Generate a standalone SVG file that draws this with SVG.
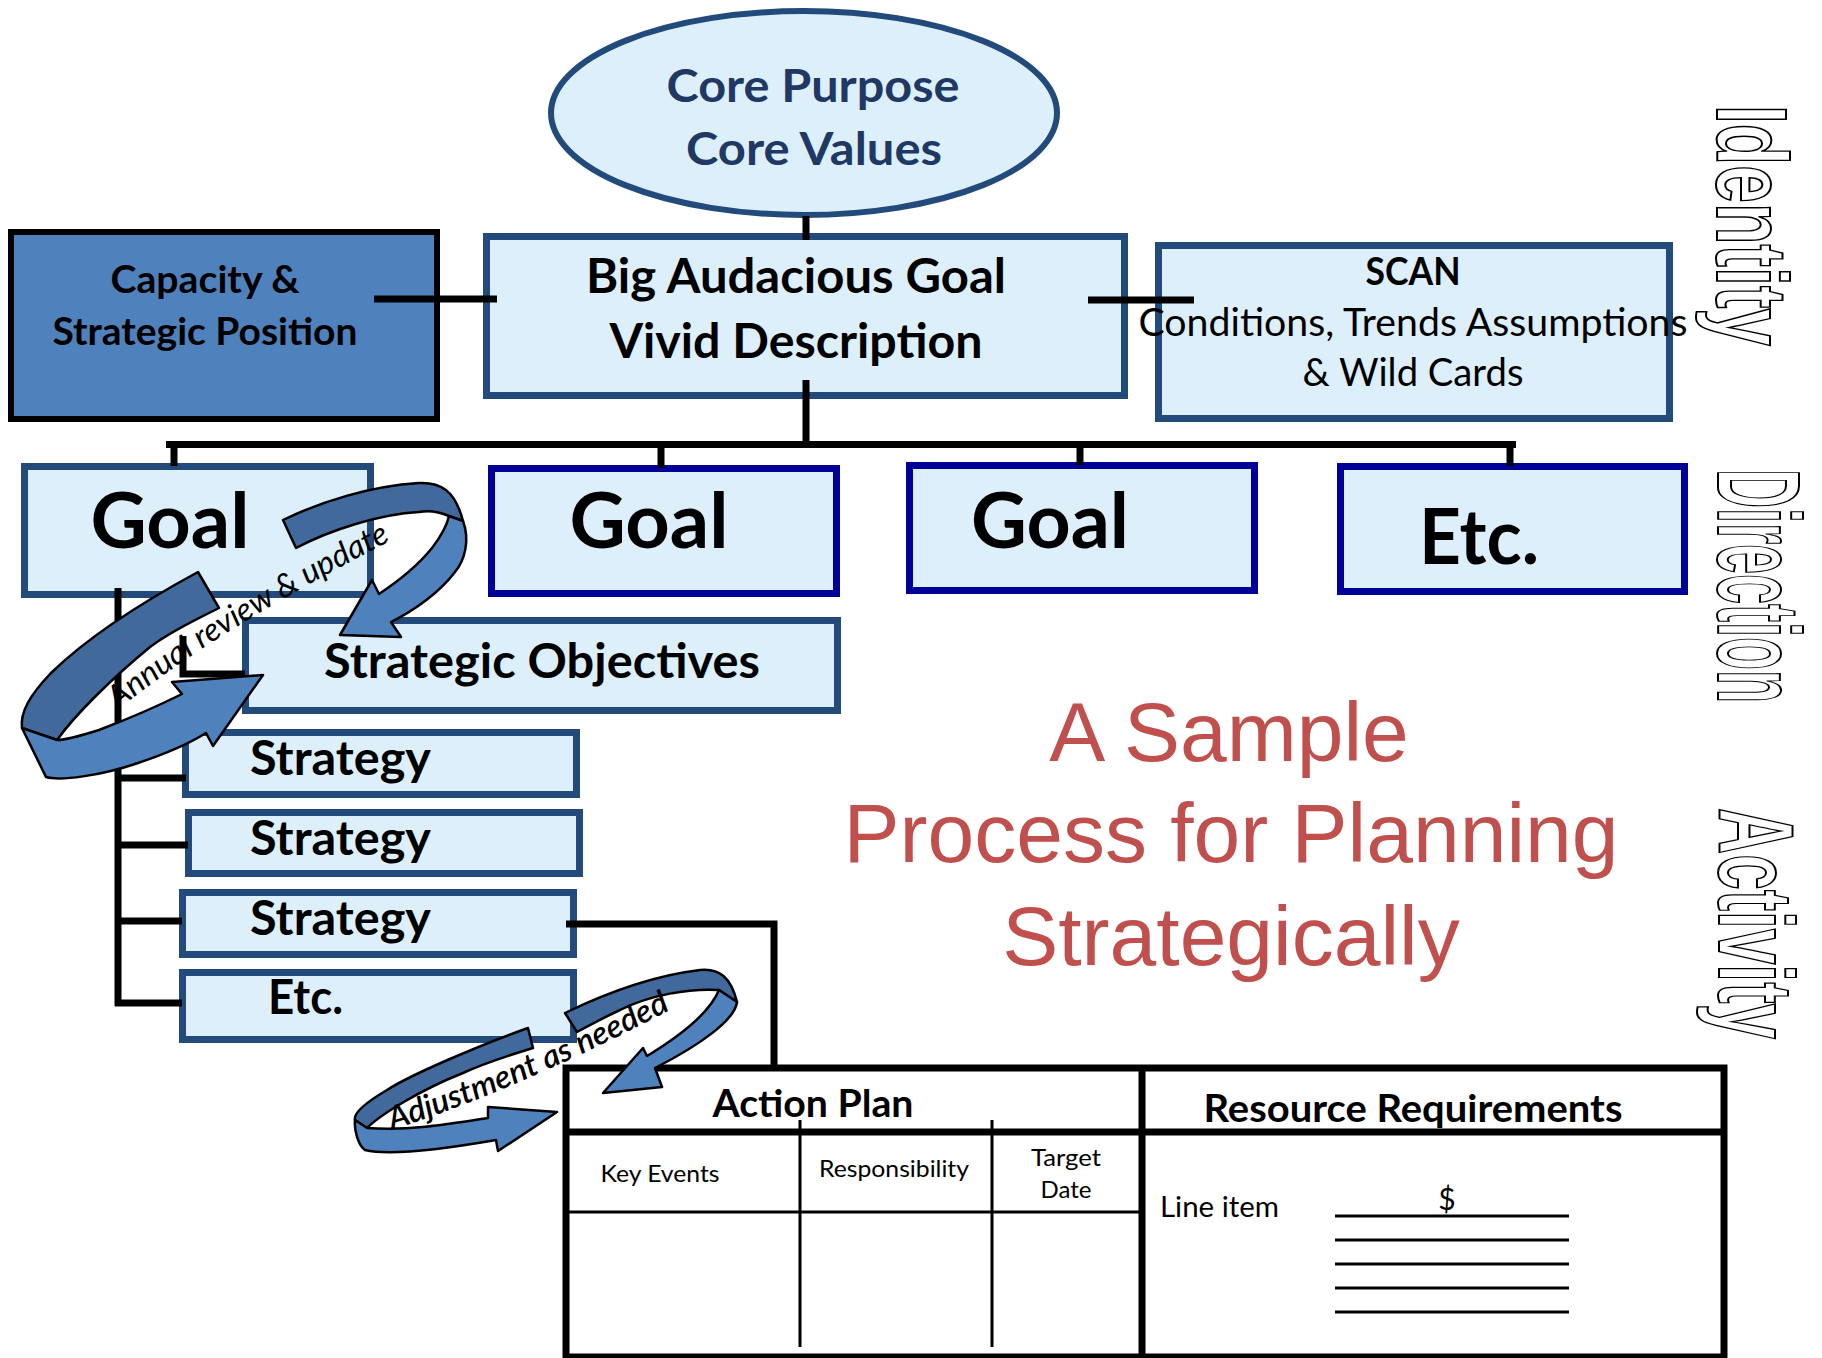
<svg xmlns="http://www.w3.org/2000/svg" width="1822" height="1358" viewBox="0 0 1822 1358">
<defs>
<style>
.box{fill:#DCEFFB;stroke:#224A7A;stroke-width:7}
.nbox{fill:#DCEFFB;stroke:#000096;stroke-width:7}
.t{font-family:Lato,"Open Sans","Liberation Sans",sans-serif;font-weight:700;fill:#000;text-anchor:middle}
.r{font-weight:400}
.conn{stroke:#000;stroke-width:7;fill:none}
.thin{stroke:#000;stroke-width:3;fill:none}
.back{fill:#41699C;stroke:#000;stroke-width:2.5;stroke-linejoin:round}
.front{fill:#4F81BD;stroke:#000;stroke-width:2.5;stroke-linejoin:round}
.lab{font-family:Lato,"Open Sans",sans-serif;font-style:italic;fill:#000}
.side{font-family:"Liberation Sans",Arial,sans-serif;font-weight:700;fill:#fff;stroke:#000;stroke-width:2}
.title{font-family:"Liberation Sans",Arial,sans-serif;fill:#C0504D;font-size:84px;text-anchor:middle}
</style>
</defs>
<rect width="1822" height="1358" fill="#fff"/>

<g id="core">
<ellipse cx="804" cy="113" rx="253" ry="102" fill="#DCEFFB" stroke="#224A7A" stroke-width="6"/>
<text class="t" x="813" y="102" font-size="46" style="fill:#1F3864" textLength="293" lengthAdjust="spacingAndGlyphs">Core Purpose</text>
<text class="t" x="814" y="165" font-size="46" style="fill:#1F3864" textLength="256" lengthAdjust="spacingAndGlyphs">Core Values</text>
</g>

<g id="capacity">
<rect x="11" y="232" width="426" height="187" fill="#4F81BD" stroke="#000" stroke-width="6"/>
<text class="t" x="205" y="293" font-size="38" textLength="189" lengthAdjust="spacingAndGlyphs">Capacity &amp;</text>
<text class="t" x="205" y="345" font-size="38" textLength="305" lengthAdjust="spacingAndGlyphs">Strategic Position</text>
</g>

<g id="big-goal">
<rect class="box" x="486.5" y="236.5" width="638" height="159"/>
<text class="t" x="796" y="293" font-size="47" textLength="420" lengthAdjust="spacingAndGlyphs">Big Audacious Goal</text>
<text class="t" x="796" y="358" font-size="47" textLength="373" lengthAdjust="spacingAndGlyphs">Vivid Description</text>
</g>

<g id="scan">
<rect class="box" x="1158.5" y="245.5" width="511" height="173"/>
<text class="t" x="1413" y="285" font-size="38" textLength="95" lengthAdjust="spacingAndGlyphs">SCAN</text>
<text class="t r" x="1413" y="336" font-size="38" textLength="549" lengthAdjust="spacingAndGlyphs">Conditions, Trends Assumptions</text>
<text class="t r" x="1413" y="386" font-size="38" textLength="221" lengthAdjust="spacingAndGlyphs">&amp; Wild Cards</text>
</g>

<g id="goal1">
<rect class="box" x="24.5" y="466.5" width="346" height="128"/>
<text class="t" x="170" y="548" font-size="76" textLength="159" lengthAdjust="spacingAndGlyphs">Goal</text>
</g>
<g id="goal2">
<rect class="nbox" x="491.5" y="468.5" width="345" height="125"/>
<text class="t" x="649" y="548" font-size="76" textLength="159" lengthAdjust="spacingAndGlyphs">Goal</text>
</g>
<g id="goal3">
<rect class="nbox" x="909.5" y="465.5" width="345" height="125"/>
<text class="t" x="1050" y="548" font-size="76" textLength="158" lengthAdjust="spacingAndGlyphs">Goal</text>
</g>
<g id="goal-etc">
<rect class="nbox" x="1340.5" y="466.5" width="344" height="125"/>
<text class="t" x="1479" y="564" font-size="76" textLength="120" lengthAdjust="spacingAndGlyphs">Etc.</text>
</g>

<g id="strategic-objectives">
<rect class="box" x="245.5" y="620.5" width="592" height="90"/>
<text class="t" x="542" y="678" font-size="47" textLength="436" lengthAdjust="spacingAndGlyphs">Strategic Objectives</text>
</g>

<g id="strategy1">
<rect class="box" x="185.5" y="732.5" width="391" height="62"/>
<text class="t" x="250" y="775" font-size="47" style="text-anchor:start" textLength="181" lengthAdjust="spacingAndGlyphs">Strategy</text>
</g>
<g id="strategy2">
<rect class="box" x="188.5" y="812.5" width="391" height="61"/>
<text class="t" x="250" y="855" font-size="47" style="text-anchor:start" textLength="181" lengthAdjust="spacingAndGlyphs">Strategy</text>
</g>
<g id="strategy3">
<rect class="box" x="182.5" y="892.5" width="391" height="62"/>
<text class="t" x="250" y="935" font-size="47" style="text-anchor:start" textLength="181" lengthAdjust="spacingAndGlyphs">Strategy</text>
</g>
<g id="strategy-etc">
<rect class="box" x="182.5" y="972.5" width="391" height="67"/>
<text class="t" x="268" y="1014" font-size="47" style="text-anchor:start" textLength="75" lengthAdjust="spacingAndGlyphs">Etc.</text>
</g>

<g id="connectors">
<line class="conn" x1="806" y1="216" x2="806" y2="240" stroke-width="10"/>
<line class="conn" x1="374" y1="299" x2="497" y2="299" stroke-width="6"/>
<line class="conn" x1="1088" y1="300" x2="1194" y2="300" stroke-width="6"/>
<line class="conn" x1="806" y1="380" x2="806" y2="448" stroke-width="6"/>
<line class="conn" x1="166" y1="444.5" x2="1516" y2="444.5"/>
<line class="conn" x1="174" y1="444" x2="174" y2="466" stroke-width="6"/>
<line class="conn" x1="661" y1="444" x2="661" y2="468" stroke-width="6"/>
<line class="conn" x1="1080" y1="444" x2="1080" y2="465" stroke-width="6"/>
<line class="conn" x1="1510" y1="444" x2="1510" y2="466" stroke-width="6"/>
<line class="conn" x1="118" y1="588" x2="118" y2="1006" stroke-width="6"/>
<polyline class="conn" points="183,636 183,674 245,674" stroke-width="6"/>
<line class="conn" x1="115" y1="778" x2="186" y2="778"/>
<line class="conn" x1="115" y1="845" x2="188" y2="845"/>
<line class="conn" x1="115" y1="921" x2="182" y2="921"/>
<line class="conn" x1="115" y1="1003" x2="182" y2="1003"/>
<polyline class="conn" points="566,924 774,924 774,1069"/>
</g>

<g id="action-plan-table">
<rect x="566" y="1068" width="1158" height="289" fill="#fff" stroke="#000" stroke-width="7"/>
<line class="conn" x1="1142" y1="1068" x2="1142" y2="1357"/>
<line class="conn" x1="566" y1="1132" x2="1724" y2="1132" stroke-width="4"/>
<line class="thin" x1="566" y1="1212" x2="1142" y2="1212"/>
<line class="thin" x1="800" y1="1120" x2="800" y2="1347"/>
<line class="thin" x1="992" y1="1120" x2="992" y2="1347"/>
<text class="t" x="813" y="1117" font-size="38" textLength="201" lengthAdjust="spacingAndGlyphs">Action Plan</text>
<text class="t" x="1413" y="1122" font-size="38" textLength="419" lengthAdjust="spacingAndGlyphs">Resource Requirements</text>
<text class="t r" x="660" y="1182" font-size="24" textLength="119" lengthAdjust="spacingAndGlyphs">Key Events</text>
<text class="t r" x="894" y="1177" font-size="24" textLength="150" lengthAdjust="spacingAndGlyphs">Responsibility</text>
<text class="t r" x="1066" y="1166" font-size="24" textLength="70" lengthAdjust="spacingAndGlyphs">Target</text>
<text class="t r" x="1066" y="1198" font-size="24" textLength="51" lengthAdjust="spacingAndGlyphs">Date</text>
<text class="t r" x="1160" y="1217" font-size="28" style="text-anchor:start" textLength="119" lengthAdjust="spacingAndGlyphs">Line item</text>
<text class="t r" x="1447" y="1210" font-size="30">$</text>
<line class="thin" x1="1335" y1="1216" x2="1569" y2="1216"/>
<line class="thin" x1="1335" y1="1240" x2="1569" y2="1240"/>
<line class="thin" x1="1335" y1="1264" x2="1569" y2="1264"/>
<line class="thin" x1="1335" y1="1288" x2="1569" y2="1288"/>
<line class="thin" x1="1335" y1="1312" x2="1569" y2="1312"/>
</g>

<g id="annual-review-arrow">
<path class="back" d="M283,520 C320,502 370,486 419,483 C440,482 455,490 463,521 L449,516 C440,512 430,510 419,512 C380,514 330,530 296,548 Z"/>
<path class="front" d="M449,516 L463,521 C470,540 465,560 455,572 C440,592 415,610 391,622 L401,637 L340,635 L372,580 L379,594 C400,580 420,563 432,548 C442,535 447,525 449,516 Z"/>
<path class="back" d="M198,572 C150,598 90,635 51,673 C30,695 20,712 22,728 L57,740 C75,715 110,680 150,647 C170,632 195,620 219,608 Z"/>
<path class="front" d="M22,728 L46,777 C60,781 100,776 138,763 C165,754 190,743 206,733 L213,746 L263,675 L172,682 L182,694 C160,705 120,722 99,730 C80,736 65,740 57,740 Z"/>
<path id="p1" d="M118,710 Q215,630 404,534" fill="none"/>
<text class="lab" font-size="32"><textPath href="#p1" textLength="322" lengthAdjust="spacingAndGlyphs">Annual review &amp; update</textPath></text>
</g>

<g id="adjustment-arrow">
<path class="back" d="M565,1013 C600,996 650,976 700,970 C720,968 731,978 737,1002 L719,990 C690,988 650,995 620,1010 C605,1017 590,1025 577,1032 Z"/>
<path class="front" d="M719,990 L737,1002 C735,1020 700,1045 655,1068 L662,1087 L603,1093 L643,1048 L647,1056 C680,1036 710,1012 719,990 Z"/>
<path class="back" d="M528,1028 C480,1045 410,1075 387,1090 C365,1103 353,1113 355,1120 L367,1128 C380,1115 420,1090 463,1073 C485,1063 510,1055 533,1048 Z"/>
<path class="front" d="M355,1120 C354,1130 358,1145 365,1150 C390,1156 450,1148 496,1140 L498,1151 L557,1112 L488,1107 L488,1118 C450,1124 410,1131 367,1128 Z"/>
<path id="p2" d="M392,1130 Q522,1088 674,1008" fill="none"/>
<text class="lab" font-size="32" font-weight="600"><textPath href="#p2" textLength="304" lengthAdjust="spacingAndGlyphs">Adjustment as needed</textPath></text>
</g>

<g id="title">
<text class="title" x="1229" y="761">A Sample</text>
<text class="title" x="1231" y="862">Process for Planning</text>
<text class="title" x="1231" y="965">Strategically</text>
</g>

<g id="side-labels">
<text class="side" font-size="100" transform="translate(1717,105) rotate(90)" textLength="241" lengthAdjust="spacingAndGlyphs">Identity</text>
<text class="side" font-size="116" transform="translate(1718,469) rotate(90)" textLength="234" lengthAdjust="spacingAndGlyphs">Direction</text>
<text class="side" font-size="106" transform="translate(1719,808) rotate(90)" textLength="231" lengthAdjust="spacingAndGlyphs">Activity</text>
</g>
</svg>
